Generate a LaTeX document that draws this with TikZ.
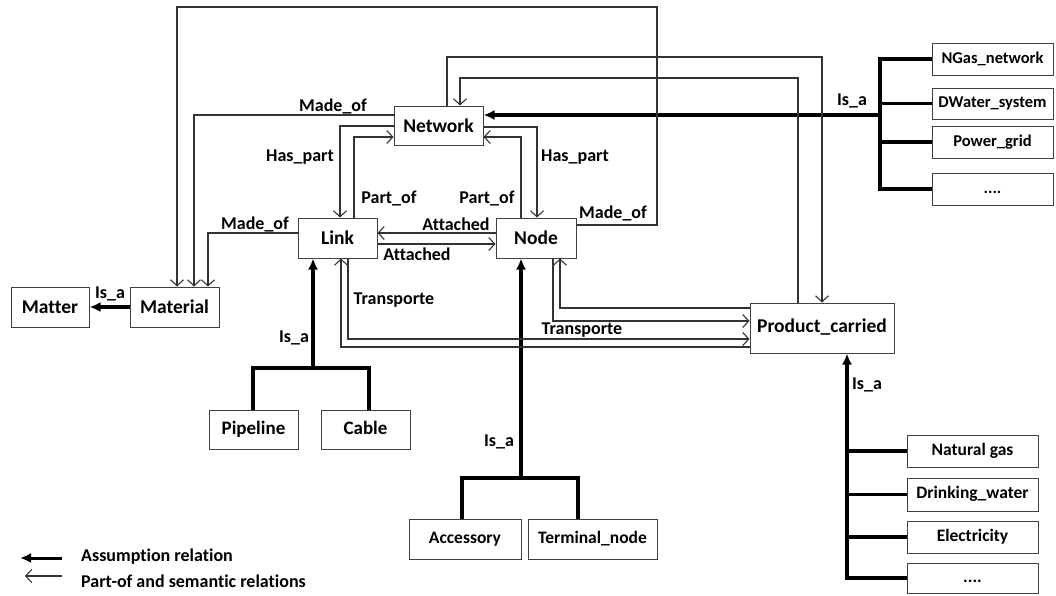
\documentclass[tikz,border=0pt]{standalone}
\usepackage{fontspec}
\setmainfont[Ligatures=NoCommon]{Carlito}
\usetikzlibrary{arrows.meta}
\begin{document}
\begin{tikzpicture}[x=1pt,y=-1pt,
  box/.style={draw=black!75, line width=1pt, inner sep=0pt, font=\bfseries\fontsize{19.5}{19.5}\selectfont},
  pbox/.style={box, font=\bfseries\fontsize{19}{19}\selectfont, text height=13.5pt, text depth=4pt},
  subbox/.style={box, font=\bfseries\fontsize{17.5}{17.5}\selectfont, text height=12.5pt, text depth=4pt},
  rbox/.style={box, font=\bfseries\fontsize{16.5}{16.5}\selectfont, text height=12pt, text depth=3.5pt},
  bbox/.style={box, font=\bfseries\fontsize{17.5}{17.5}\selectfont, text height=12.5pt, text depth=4pt},
  lbl/.style={inner sep=0pt, font=\bfseries\fontsize{18}{18}\selectfont},
  rel/.style={draw=black!80, line width=1.1pt, -{Straight Barb[length=6pt,width=13pt,line width=1.1pt]}},
  thk/.style={draw=black, line width=3.5pt},
  isa/.style={thk, -{Latex[length=11pt,width=10pt]}}
]
\useasboundingbox (0,0) rectangle (1056,595);

% main boxes
\node[box, minimum width=89pt, minimum height=39pt] (net) at (438.5,125.5) {Network};
\node[box, minimum width=79pt, minimum height=40pt] (link) at (337.5,238) {Link};
\node[box, minimum width=80pt, minimum height=40pt] (node) at (536,238) {Node};
\node[box, minimum width=89pt, minimum height=40pt] (mat) at (174.5,307) {Material};
\node[box, minimum width=78pt, minimum height=40pt] (matter) at (50,307) {Matter};
\node[box, minimum width=144pt, minimum height=50pt] (prod) at (822,328) {\raisebox{5pt}{Product\_carried}};

\node[pbox, minimum width=89pt, minimum height=39pt] (pipe) at (253.5,429.5) {Pipeline};
\node[pbox, minimum width=89pt, minimum height=39pt] (cable) at (365.5,429.5) {Cable};
\node[subbox, minimum width=112pt, minimum height=40pt] (acc) at (465,539) {Accessory};
\node[subbox, minimum width=129pt, minimum height=40pt] (term) at (592.5,539) {Terminal\_node};

\node[rbox, minimum width=121pt, minimum height=32pt] (ng) at (992.5,59) {NGas\_network};
\node[rbox, minimum width=121pt, minimum height=31pt] (dw) at (992.5,103.5) {DWater\_system};
\node[rbox, minimum width=121pt, minimum height=32pt] (pg) at (992.5,142) {Power\_grid};
\node[rbox, minimum width=121pt, minimum height=32pt] (d1) at (992.5,189) {....};

\node[bbox, minimum width=131pt, minimum height=32pt] (gas) at (972.5,451) {Natural gas};
\node[bbox, minimum width=131pt, minimum height=33pt] (water) at (972.5,494.5) {Drinking\_water};
\node[bbox, minimum width=131pt, minimum height=32pt] (elec) at (972.5,537) {Electricity};
\node[bbox, minimum width=131pt, minimum height=30pt] (d2) at (972.5,578) {....};

% Network is_a tree
\draw[thk] (ng.west) -- (ng.west -| 880,0) -- (d1.west -| 880,0) -- (d1.west);
\draw[thk] (dw.west -| 880,0) -- (dw.west);
\draw[thk] (pg.west -| 880,0) -- (pg.west);
\draw[isa] (880,115) -- (net.east |- 0,115);

% Product is_a tree
\draw[thk] (gas.west) -- (gas.west -| 847,0) -- (d2.west -| 847,0) -- (d2.west);
\draw[thk] (water.west -| 847,0) -- (water.west);
\draw[thk] (elec.west -| 847,0) -- (elec.west);
\draw[isa] (847,452) -- (prod.south -| 847,0);

% Link is_a tree
\draw[thk] (pipe.north -| 253,0) |- (369,368) -- (cable.north -| 369,0);
\draw[isa] (313,368) -- (link.south -| 313,0);

% Node is_a tree
\draw[thk] (acc.north -| 462,0) |- (578,478) -- (term.north -| 578,0);
\draw[isa] (521,478) -- (node.south -| 521,0);

% Material is_a Matter
\draw[isa] (mat.west) -- (matter.east);

% relations
\draw[rel] (net.north -| 447,0) |- (822,57) -- (prod.north -| 822,0);
\draw[rel] (prod.north -| 798,0) |- (460,78) -- (net.north -| 460,0);
\draw[rel] (node.east |- 0,225) -| (657,7) -| (mat.north -| 177,0);
\draw[rel] (net.west |- 0,115) -| (mat.north -| 194,0);
\draw[rel] (link.west |- 0,233) -| (mat.north -| 208,0);
\draw[rel] (net.west |- 0,126) -| (link.north -| 340,0);
\draw[rel] (link.north -| 354,0) |- (net.west |- 0,137);
\draw[rel] (net.east |- 0,127) -| (node.north -| 537,0);
\draw[rel] (node.north -| 521,0) |- (net.east |- 0,137);
\draw[rel] (node.west |- 0,233) -- (link.east |- 0,233);
\draw[rel] (link.east |- 0,244) -- (node.west |- 0,244);
\draw[rel] (link.south -| 348,0) |- (prod.west |- 0,339);
\draw[rel] (prod.west |- 0,347) -| (link.south -| 341,0);
\draw[rel] (node.south -| 553,0) |- (prod.west |- 0,321);
\draw[rel] (prod.west |- 0,308) -| (node.south -| 560,0);

% labels
\node[lbl] (t1) at (333,106) {Made\_of};
\node[lbl] (t2) at (255,224) {Made\_of};
\node[lbl] (t3) at (300,157) {Has\_part};
\node[lbl] (t4) at (389,198) {Part\_of};
\node[lbl] (t5) at (487,198) {Part\_of};
\node[lbl] (t6) at (575,157) {Has\_part};
\node[lbl] (t7) at (613,213) {Made\_of};
\node[lbl] (t8) at (456,224) {Attached};
\node[lbl] (t9) at (417,254) {Attached};
\node[lbl] (t10) at (394,300) {Transporte};
\node[lbl] (t11) at (582,330) {Transporte};
\node[lbl] (t12) at (852,101) {Is\_a};
\node[lbl] (t13) at (110,294) {Is\_a};
\node[lbl] (t14) at (294,338) {Is\_a};
\node[lbl] (t15) at (499,442) {Is\_a};
\node[lbl] (t16) at (867,385) {Is\_a};

% legend
\coordinate (la1) at (62,558);
\coordinate (la2) at (20,558);
\coordinate (lb1) at (62,576);
\coordinate (lb2) at (25,576);
\draw[isa, line width=3pt] (la1) -- (la2);
\draw[rel] (lb1) -- (lb2);
\node[lbl, anchor=west] (lg1) at (81,557) {Assumption relation};
\node[lbl, anchor=west] (lg2) at (81,581) {Part-of and semantic relations};
\end{tikzpicture}
\end{document}
